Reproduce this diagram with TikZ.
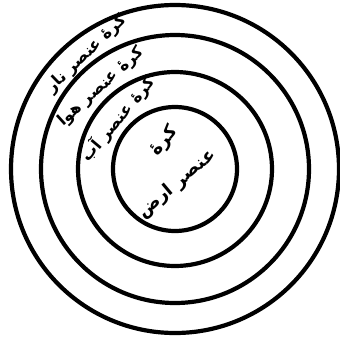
\documentclass[tikz,border=0pt]{standalone}
\usepackage{fontspec}
\newfontfamily\arabicfont[Script=Arabic]{DejaVu Sans}
\TeXXeTstate=1
\usepackage{tikz}
\usetikzlibrary{positioning}

\tikzset{
  sphere/.style={line width=4.2pt},
  element/.style={font=\arabicfont\bfseries\fontsize{16}{18}\selectfont, inner sep=0pt}
}

\begin{document}
\begin{tikzpicture}[x=1pt,y=-1pt]
  \useasboundingbox (0,0) rectangle (340,341);
  \coordinate (centre) at (175,169);
  \foreach \r in {62,97,134,164} {
    \draw[sphere] (centre) circle[radius=\r pt]; % spheres
  }
  \node[element, rotate=44] (fire) at (87,54) {\beginR کرهٔ عنصر نار\endR};
  \node[element, rotate=42] (air) at (101,87) {\beginR کرهٔ عنصر هوا\endR};
  \node[element, rotate=50] (water) at (118,119) {\beginR کرهٔ عنصر آب\endR};
  \node[element, rotate=50, font=\arabicfont\bfseries\fontsize{18}{20}\selectfont] (earthtop) at (164,141) {\beginR کرهٔ\endR};
  \node[element, rotate=40, font=\arabicfont\bfseries\fontsize{18}{20}\selectfont] (earth) at (177,184) {\beginR عنصر ارض\endR};
\end{tikzpicture}
\end{document}
